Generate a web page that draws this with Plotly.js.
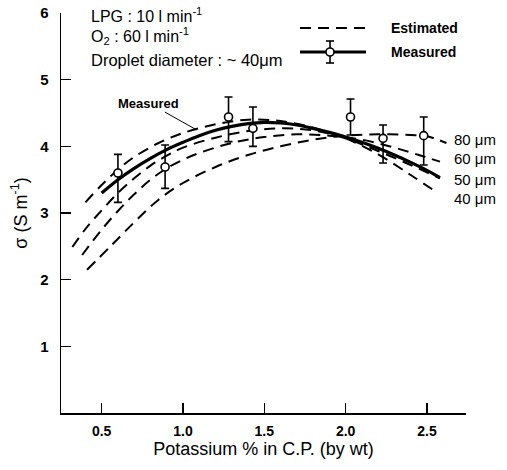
<!DOCTYPE html>
<html>
<head>
<meta charset="utf-8">
<script src="https://cdn.plot.ly/plotly-3.0.1.min.js"></script>
<style>html,body{margin:0;padding:0;background:#fff;}#chart{width:507px;height:470px;}</style>
</head>
<body>
<div id="chart"></div>
<script>
// ---- data ----
var est40x = [0.40, 0.5, 0.6, 0.7, 0.85, 1.0, 1.2, 1.4, 1.6, 1.8, 2.0, 2.2, 2.4, 2.56];
var est40y = [3.16, 3.42, 3.65, 3.84, 4.05, 4.20, 4.33, 4.40, 4.38, 4.28, 4.12, 3.88, 3.57, 3.31];
var est50x = [0.32, 0.4, 0.5, 0.6, 0.7, 0.8, 0.9, 1.0, 1.2, 1.4, 1.6, 1.8, 2.0, 2.2, 2.4, 2.58];
var est50y = [2.49, 2.76, 3.04, 3.30, 3.52, 3.71, 3.86, 3.98, 4.13, 4.23, 4.27, 4.24, 4.12, 3.93, 3.72, 3.52];
var est60x = [0.38, 0.5, 0.6, 0.7, 0.8, 0.9, 1.0, 1.1, 1.3, 1.5, 1.7, 1.9, 2.1, 2.3, 2.45, 2.58];
var est60y = [2.37, 2.75, 3.03, 3.28, 3.50, 3.67, 3.80, 3.90, 4.05, 4.14, 4.18, 4.16, 4.10, 3.98, 3.87, 3.77];
var est80x = [0.41, 0.55, 0.7, 0.85, 1.0, 1.2, 1.4, 1.6, 1.8, 2.0, 2.2, 2.4, 2.5, 2.62];
var est80y = [2.15, 2.49, 2.86, 3.20, 3.45, 3.69, 3.87, 4.00, 4.10, 4.16, 4.18, 4.17, 4.15, 4.05];

var measCurveX = [0.5, 0.6, 0.7, 0.8, 0.9, 1.0, 1.1, 1.2, 1.3, 1.4, 1.5, 1.6, 1.7, 1.8, 1.9, 2.0, 2.1, 2.2, 2.3, 2.4, 2.5, 2.58];
var measCurveY = [3.30, 3.50, 3.67, 3.82, 3.95, 4.06, 4.16, 4.24, 4.30, 4.34, 4.36, 4.35, 4.32, 4.27, 4.21, 4.14, 4.06, 3.97, 3.87, 3.76, 3.64, 3.53];

var measPtsX = [0.60, 0.89, 1.28, 1.43, 2.03, 2.23, 2.48];
var measPtsY = [3.60, 3.69, 4.44, 4.27, 4.44, 4.12, 4.16];
var errPlus  = [0.28, 0.33, 0.30, 0.32, 0.27, 0.20, 0.28];
var errMinus = [0.44, 0.32, 0.37, 0.27, 0.27, 0.37, 0.44];

var xTickVals = [0.5, 1.0, 1.5, 2.0, 2.5];
var xTickText = ['0.5', '1.0', '1.5', '2.0', '2.5'];
var yTickVals = [1, 2, 3, 4, 5, 6];
var yTickText = ['1', '2', '3', '4', '5', '6'];

var curveLabels = ['80 \u03bcm', '60 \u03bcm', '50 \u03bcm', '40 \u03bcm'];
var curveLabelY = [4.11, 3.82, 3.50, 3.22];

// ---- styles ----
var FONT = 'Liberation Sans, Arial, sans-serif';
var dashStyle = {color: '#000', width: 2, dash: '11px,7px', shape: 'spline'};

var traces = [
  {x: est80x, y: est80y, mode: 'lines', line: dashStyle, hoverinfo: 'skip', showlegend: false},
  {x: est60x, y: est60y, mode: 'lines', line: dashStyle, hoverinfo: 'skip', showlegend: false},
  {x: est50x, y: est50y, mode: 'lines', line: dashStyle, hoverinfo: 'skip', showlegend: false},
  {x: est40x, y: est40y, mode: 'lines', line: dashStyle, hoverinfo: 'skip', showlegend: false},
  {x: measCurveX, y: measCurveY, mode: 'lines', line: {color: '#000', width: 3.2, shape: 'spline'}, showlegend: false},
  {x: measPtsX, y: measPtsY, mode: 'markers', showlegend: false,
   marker: {symbol: 'circle', size: 8, color: '#fff', line: {color: '#000', width: 1.6}},
   error_y: {type: 'data', symmetric: false, array: errPlus, arrayminus: errMinus,
             color: '#000', thickness: 1.6, width: 4}}
];

var annotations = [
  {xref: 'paper', yref: 'paper', x: 0.07, y: 0.995, xanchor: 'left', yanchor: 'middle', showarrow: false,
   text: 'LPG : 10 l min<sup>-1</sup>', font: {family: FONT, size: 16, color: '#000'}},
  {xref: 'paper', yref: 'paper', x: 0.07, y: 0.9425, xanchor: 'left', yanchor: 'middle', showarrow: false,
   text: 'O<sub>2</sub> : 60 l min<sup>-1</sup>', font: {family: FONT, size: 16, color: '#000'}},
  {xref: 'paper', yref: 'paper', x: 0.07, y: 0.8825, xanchor: 'left', yanchor: 'middle', showarrow: false,
   text: 'Droplet diameter : ~ 40\u03bcm', font: {family: FONT, size: 16.5, color: '#000'}},
  {xref: 'paper', yref: 'paper', x: (389 - 61) / 405, y: (413 - 28) / 400, xanchor: 'left', yanchor: 'middle', showarrow: false,
   text: '<b>Estimated</b>', font: {family: FONT, size: 14, color: '#000'}},
  {xref: 'paper', yref: 'paper', x: (389 - 61) / 405, y: (413 - 52) / 400, xanchor: 'left', yanchor: 'middle', showarrow: false,
   text: '<b>Measured</b>', font: {family: FONT, size: 14, color: '#000'}},
  {x: 1.085, y: 4.245, xref: 'x', yref: 'y', text: '<b>Measured</b>', showarrow: true, arrowhead: 0,
   arrowwidth: 1, arrowcolor: '#000', ax: -48, ay: -27, font: {family: FONT, size: 13, color: '#000'}}
];
for (var i = 0; i < curveLabels.length; i++) {
  annotations.push({xref: 'paper', yref: 'y', x: (452 - 61) / 405, y: curveLabelY[i], xanchor: 'left', yanchor: 'middle',
    showarrow: false, text: curveLabels[i], font: {family: FONT, size: 15, color: '#000'}});
}

// legend glyphs (paper coordinates)
function px(v) { return (v - 61) / 405; }
function py(v) { return (413 - v) / 400; }
var shapes = [
  {type: 'line', xref: 'paper', yref: 'paper', x0: px(300), x1: px(366), y0: py(28), y1: py(28),
   line: {color: '#000', width: 2, dash: '11px,7px'}},
  {type: 'line', xref: 'paper', yref: 'paper', x0: px(300), x1: px(366), y0: py(52), y1: py(52),
   line: {color: '#000', width: 3.2}},
  {type: 'line', xref: 'paper', yref: 'paper', x0: px(330), x1: px(330), y0: py(41), y1: py(63),
   line: {color: '#000', width: 1.6}},
  {type: 'line', xref: 'paper', yref: 'paper', x0: px(326), x1: px(334), y0: py(41), y1: py(41),
   line: {color: '#000', width: 1.6}},
  {type: 'line', xref: 'paper', yref: 'paper', x0: px(326), x1: px(334), y0: py(63), y1: py(63),
   line: {color: '#000', width: 1.6}},
  {type: 'circle', xref: 'paper', yref: 'paper', xsizemode: 'pixel', ysizemode: 'pixel',
   xanchor: px(330), yanchor: py(52), x0: -4, x1: 4, y0: -4, y1: 4,
   fillcolor: '#fff', line: {color: '#000', width: 1.6}}
];

var layout = {
  width: 507, height: 470,
  margin: {l: 61, r: 41, t: 13, b: 57},
  paper_bgcolor: '#fff', plot_bgcolor: '#fff',
  showlegend: false,
  font: {family: FONT, color: '#000'},
  xaxis: {
    range: [0.25, 2.74], showgrid: false, zeroline: false,
    showline: true, linecolor: '#000', linewidth: 1.5,
    ticks: 'inside', ticklen: 10, tickwidth: 1.5, tickcolor: '#000',
    tickvals: xTickVals, ticktext: xTickText, ticklabelstandoff: 5,
    tickfont: {family: FONT, size: 14, color: '#000', weight: 'bold'},
    title: {text: 'Potassium % in C.P. (by wt)', standoff: 4, font: {family: FONT, size: 18, color: '#000'}}
  },
  yaxis: {
    range: [0, 6], showgrid: false, zeroline: false,
    showline: true, linecolor: '#000', linewidth: 1.5,
    ticks: 'inside', ticklen: 10, tickwidth: 1.5, tickcolor: '#000',
    tickvals: yTickVals, ticktext: yTickText, ticklabelstandoff: 8,
    tickfont: {family: FONT, size: 15, color: '#000', weight: 'bold'},
    title: {text: '\u03c3 (S m<sup>-1</sup>)', standoff: 8, font: {family: FONT, size: 18, color: '#000'}}
  },
  annotations: annotations,
  shapes: shapes
};

Plotly.newPlot('chart', traces, layout, {staticPlot: true, displayModeBar: false});
</script>
</body>
</html>
